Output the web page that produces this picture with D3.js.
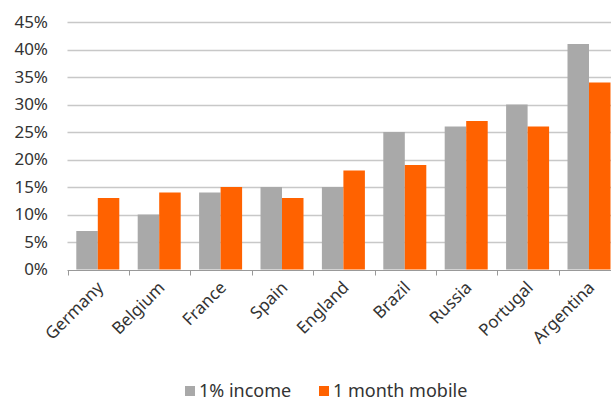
<!DOCTYPE html>
<html>
<head>
<meta charset="utf-8">
<script src="https://cdn.jsdelivr.net/npm/d3@7.9.0/dist/d3.min.js"></script>
<style>
  body { margin: 0; background: #fff; }
  svg { display: block; font-family: "Noto Sans", "DejaVu Sans", sans-serif; }
</style>
</head>
<body>
<svg id="chart" width="611" height="403"></svg>
<script>
const countries = ["Germany", "Belgium", "France", "Spain", "England", "Brazil", "Russia", "Portugal", "Argentina"];
const incomeShare = [7, 10, 14, 15, 15, 25, 26, 30, 41];
const mobileMonth = [13, 14, 15, 13, 18, 19, 27, 26, 34];
const seriesNames = ["1% income", "1 month mobile"];
const seriesColors = ["#a9a9a9", "#ff6200"];
const yTicks = [0, 5, 10, 15, 20, 25, 30, 35, 40, 45];

const svg = d3.select("#chart");
const left = 67.5, bandW = 61.4;
const x = d3.scaleBand().domain(countries).range([left, left + bandW * countries.length]);
const y = d3.scaleLinear().domain([0, 45]).range([269.5, 22]);
const inner = d3.scaleBand().domain([0, 1]).range([8.8, 8.8 + 43]);

// gridlines
svg.append("g")
  .selectAll("line")
  .data(yTicks.filter((t) => t > 0))
  .join("line")
  .attr("x1", left)
  .attr("x2", 611)
  .attr("y1", (d) => Math.round(y(d)) + 0.5)
  .attr("y2", (d) => Math.round(y(d)) + 0.5)
  .attr("stroke", "#c8c8c8")
  .attr("stroke-width", 1.5);

// y labels
svg.append("g")
  .selectAll("text")
  .data(yTicks)
  .join("text")
  .attr("x", 48)
  .attr("y", (d) => y(d))
  .attr("dy", "0.35em")
  .attr("text-anchor", "end")
  .attr("font-size", 17)
  .attr("fill", "#333")
  .text((d) => d + "%");

// bars
const rows = countries.map((c, i) => ({ c, vals: [incomeShare[i], mobileMonth[i]] }));
svg.append("g")
  .selectAll("g")
  .data(rows)
  .join("g")
  .attr("transform", (d) => `translate(${x(d.c)},0)`)
  .selectAll("rect")
  .data((d) => d.vals.map((v, k) => ({ v, k })))
  .join("rect")
  .attr("x", (d) => inner(d.k))
  .attr("width", inner.bandwidth())
  .attr("y", (d) => y(d.v))
  .attr("height", (d) => y(0) - y(d.v))
  .attr("fill", (d) => seriesColors[d.k]);

// x axis
const xAxis = svg.append("g").attr("transform", `translate(0,${Math.round(y(0)) + 0.5})`);
xAxis.append("line").attr("x1", left).attr("x2", 611).attr("stroke", "#999");
xAxis.selectAll("line.tick")
  .data(d3.range(countries.length + 1))
  .join("line")
  .attr("class", "tick")
  .attr("x1", (i) => Math.round(left + i * bandW) + 0.5)
  .attr("x2", (i) => Math.round(left + i * bandW) + 0.5)
  .attr("y1", 0)
  .attr("y2", 5)
  .attr("stroke", "#999");
xAxis.selectAll("text")
  .data(countries)
  .join("text")
  .attr("transform", (d) => `translate(${x(d) + x.bandwidth() / 2 + 2},${14}) rotate(-45)`)
  .attr("text-anchor", "end")
  .attr("dy", "0.35em")
  .attr("font-size", 17)
  .attr("fill", "#333")
  .text((d) => d);

// legend
const legend = svg.append("g");
const legendX = [185, 319];
seriesNames.forEach((name, k) => {
  legend.append("rect").attr("x", legendX[k]).attr("y", 386).attr("width", 10).attr("height", 10).attr("fill", seriesColors[k]);
  legend.append("text").attr("x", legendX[k] + 14).attr("y", 391).attr("dy", "0.35em")
    .attr("font-size", 18).attr("fill", "#333").text(name);
});
</script>
</body>
</html>
